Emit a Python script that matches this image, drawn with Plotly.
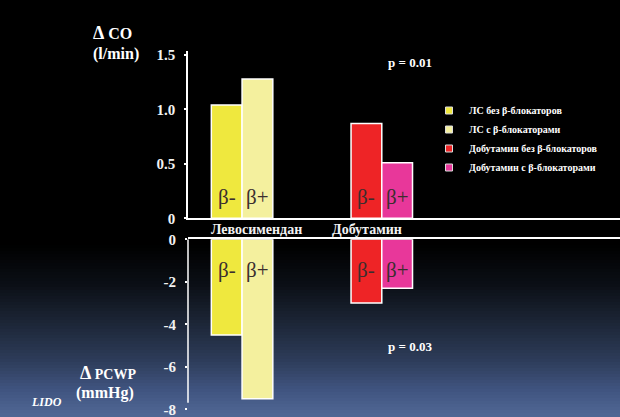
import plotly.graph_objects as go

# ---- data -------------------------------------------------------------
groups = ["Левосимендан", "Добутамин"]
series_names = [
    "ЛС без β-блокаторов",
    "ЛС с β-блокаторами",
    "Добутамин без β-блокаторов",
    "Добутамин с β-блокаторами",
]
series_group = [0, 0, 1, 1]          # index into groups
series_slot = [-1, 0, -1, 0]         # bar slot inside the group
series_tag = ["β-", "β+", "β-", "β+"]
delta_co = [1.04, 1.28, 0.87, 0.51]      # l/min
delta_pcwp = [-4.5, -7.5, -3.0, -2.3]    # mmHg
co_ticks = [0, 0.5, 1.0, 1.5]
co_ticktext = ["0", "0.5", "1.0", "1.5"]
pcwp_ticks = [0, -2, -4, -6, -8]
pcwp_ticktext = ["0", "-2", "-4", "-6", "-8"]
p_values = ["p = 0.01", "p = 0.03"]

# ---- styling ------------------------------------------------------------
W, H = 620, 417
colors = ["#efe83e", "#f4f09e", "#ee2426", "#e8379a"]
SERIF = "Liberation Serif, DejaVu Serif, serif"
BW = 0.22


def py(p):
    return 1 - p / H


def px(p):
    return p / W


fig = go.Figure()

for i in range(4):
    common = dict(
        x=[series_group[i]], width=BW, offset=series_slot[i] * BW,
        marker=dict(color=colors[i], line=dict(color="white", width=1.5)),
        showlegend=False, hoverinfo="skip",
    )
    fig.add_trace(go.Bar(y=[delta_co[i]], xaxis="x", yaxis="y", **common))
    fig.add_trace(go.Bar(y=[delta_pcwp[i]], xaxis="x2", yaxis="y2", **common))

# legend entries (small squares)
for i in range(4):
    fig.add_trace(go.Scatter(
        x=[None], y=[None], mode="markers", name=series_names[i],
        marker=dict(symbol="square", size=7, color=colors[i],
                    line=dict(color="#dddddd", width=1)),
        xaxis="x", yaxis="y",
    ))

annotations = []


def note(x, y, text, font, **kw):
    d = dict(x=x, y=y, text=text, showarrow=False, font=font,
             xanchor="center", yanchor="middle")
    d.update(kw)
    annotations.append(d)


# β labels inside bars
for i in range(4):
    xc = series_group[i] + (series_slot[i] + 0.5) * BW
    for xref, yref, shift in (("x", "y", 21), ("x2", "y2", -31)):
        note(xc, 0, series_tag[i],
             dict(family=SERIF, size=21, color="#3a2e2e"),
             xref=xref, yref=yref, yshift=shift)

# group names between the panels
for name, xp in zip(groups, (256, 367)):
    note(px(xp), py(229), "<b>%s</b>" % name,
         dict(family=SERIF, size=14, color="#f2f2f2"),
         xref="paper", yref="paper")

# p-values
for txt, yp in zip(p_values, (62.7, 346)):
    note(px(409.5), py(yp), "<b>%s</b>" % txt,
         dict(family=SERIF, size=13, color="white"),
         xref="paper", yref="paper")

# axis titles
title_font = dict(family=SERIF, size=16, color="white")
note(px(112), py(33), "<b><span style='font-size:18px'>Δ</span> CO</b>",
     title_font, xref="paper", yref="paper")
note(px(116), py(54), "<b>(l/min)</b>", title_font, xref="paper", yref="paper")
note(px(108), py(373), "<b><span style='font-size:18px'>Δ</span> PCWP</b>",
     dict(family=SERIF, size=14, color="white"), xref="paper", yref="paper")
note(px(104.5), py(393), "<b>(mmHg)</b>", title_font, xref="paper", yref="paper")
note(px(46), py(402), "<b><i>LIDO</i></b>",
     dict(family=SERIF, size=12, color="white"), xref="paper", yref="paper")

# ---- background gradient (black top, slate-blue bottom) ------------------
stops = [(0, (0, 0, 0)), (245, (0, 0, 0)), (285, (11, 15, 22)),
         (320, (27, 36, 52)), (360, (45, 60, 89)), (390, (64, 84, 128)),
         (417, (81, 105, 150))]
shapes = []
step = 3
y = 236
while y < H:
    yc = y + step / 2
    for (y0, c0), (y1, c1) in zip(stops[:-1], stops[1:]):
        if y0 <= yc <= y1:
            t = (yc - y0) / (y1 - y0)
            c = tuple(int(round(a + (b - a) * t)) for a, b in zip(c0, c1))
            break
    shapes.append(dict(type="rect", xref="paper", yref="paper", x0=0, x1=1,
                       y0=py(min(y + step + 0.5, H)), y1=py(y),
                       fillcolor="rgb(%d,%d,%d)" % c, line=dict(width=0),
                       layer="below"))
    y += step

# vertical axis line of the lower panel (stops short of the -8 tick)
shapes.append(dict(type="line", xref="paper", yref="y2", x0=px(188), x1=px(188),
                   y0=0, y1=-7.69, line=dict(color="white", width=1.5)))

tick_font = dict(family=SERIF, size=15, color="#f2f2f2", weight="bold")
axis_common = dict(showgrid=False, zeroline=False, ticks="outside", ticklen=2,
                   tickwidth=1.5, tickcolor="white", tickfont=tick_font,
                   ticklabelstandoff=6, automargin=False,
                   ticklabeloverflow="allow")

xrange = [-0.387, 2.705]
fig.update_layout(
    width=W, height=H,
    margin=dict(l=0, r=0, t=0, b=0, pad=0, autoexpand=False),
    paper_bgcolor="black", plot_bgcolor="rgba(0,0,0,0)",
    barmode="overlay",
    xaxis=dict(domain=[px(188), 1], range=xrange, anchor="y", showline=True,
               linecolor="white", linewidth=1.5, showticklabels=False,
               showgrid=False, zeroline=False, automargin=False),
    xaxis2=dict(domain=[px(188), 1], range=xrange, anchor="y2", side="top",
                showline=True, linecolor="white", linewidth=1.5,
                showticklabels=False, showgrid=False, zeroline=False,
                automargin=False),
    yaxis=dict(domain=[py(218.3), py(50.7)], range=[0, 1.54], anchor="x",
               tickvals=co_ticks, ticktext=co_ticktext, showline=True,
               linecolor="white", linewidth=1.5, **axis_common),
    yaxis2=dict(domain=[py(411.4), py(239.3)], range=[-8.1, 0], anchor="x2",
                tickvals=pcwp_ticks, ticktext=pcwp_ticktext, showline=False,
                **axis_common),
    legend=dict(x=px(429), y=py(96), xanchor="left", yanchor="top",
                bgcolor="rgba(0,0,0,0)",
                font=dict(family=SERIF, size=10, color="white", weight="bold"),
                tracegroupgap=0),
    annotations=annotations,
    shapes=shapes,
    showlegend=True,
)

fig.write_html("out.html")
